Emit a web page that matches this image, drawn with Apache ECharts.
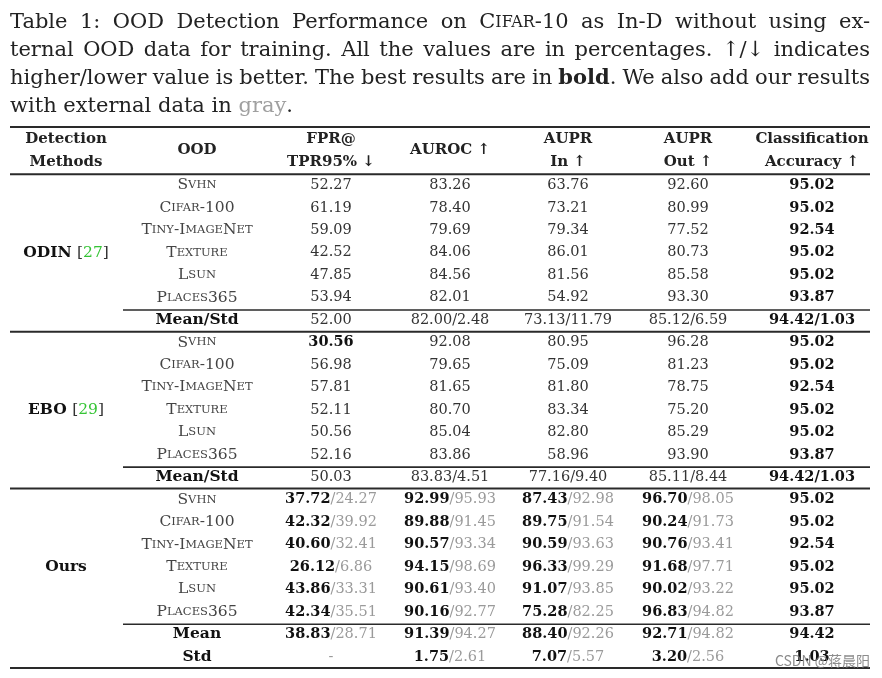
<!DOCTYPE html>
<html><head><meta charset="utf-8">
<script src="https://cdn.jsdelivr.net/npm/echarts@6/dist/echarts.min.js"></script>
<style>html,body{margin:0;padding:0;background:#fff}#c{width:882px;height:678px}</style>
</head><body><div id="c"></div>
<script>
// ---------------- data ----------------
const captionLines = [
  ['Table', '1:', 'OOD', 'Detection', 'Performance', 'on', [['C','r'],['ifar','sc'],['-10','r']], 'as', 'In-D', 'without', 'using', 'ex-'],
  ['ternal', 'OOD', 'data', 'for', 'training.', 'All', 'the', 'values', 'are', 'in', 'percentages.', '↑/↓', 'indicates'],
  ['higher/lower', 'value', 'is', 'better.', 'The', 'best', 'results', 'are', 'in', [['bold','b'],['.','r']], 'We', 'also', 'add', 'our', 'results'],
  ['with', 'external', 'data', 'in', [['gray','g'],['.','r']]]
];
const headerLines = [['Detection','Methods'], ['OOD'], ['FPR@','TPR95% ↓'], ['AUROC ↑'], ['AUPR','In ↑'], ['AUPR','Out ↑'], ['Classification','Accuracy ↑']];
const methods = ['ODIN', 'EBO', 'Ours'];
const methodRefs = ['27', '29', null];
const oodSets = ['Svhn', 'Cifar-100', 'Tiny-ImageNet', 'Texture', 'Lsun', 'Places365'];

const odinFPR     = [52.27, 61.19, 59.09, 42.52, 47.85, 53.94];
const odinAUROC   = [83.26, 78.40, 79.69, 84.06, 84.56, 82.01];
const odinAUPRIn  = [63.76, 73.21, 79.34, 86.01, 81.56, 54.92];
const odinAUPROut = [92.60, 80.99, 77.52, 80.73, 85.58, 93.30];
const odinAcc     = [95.02, 95.02, 92.54, 95.02, 95.02, 93.87];
const odinMean    = [52.00, 82.00, 73.13, 85.12, 94.42];
const odinStd     = [null, 2.48, 11.79, 6.59, 1.03];

const eboFPR      = [30.56, 56.98, 57.81, 52.11, 50.56, 52.16];
const eboAUROC    = [92.08, 79.65, 81.65, 80.70, 85.04, 83.86];
const eboAUPRIn   = [80.95, 75.09, 81.80, 83.34, 82.80, 58.96];
const eboAUPROut  = [96.28, 81.23, 78.75, 75.20, 85.29, 93.90];
const eboAcc      = [95.02, 95.02, 92.54, 95.02, 95.02, 93.87];
const eboMean     = [50.03, 83.83, 77.16, 85.11, 94.42];
const eboStd      = [null, 4.51, 9.40, 8.44, 1.03];
const eboBoldFPR  = [true, false, false, false, false, false];

const oursFPR        = [37.72, 42.32, 40.60, 26.12, 43.86, 42.34];
const oursFPRExt     = [24.27, 39.92, 32.41, 6.86, 33.31, 35.51];
const oursAUROC      = [92.99, 89.88, 90.57, 94.15, 90.61, 90.16];
const oursAUROCExt   = [95.93, 91.45, 93.34, 98.69, 93.40, 92.77];
const oursAUPRIn     = [87.43, 89.75, 90.59, 96.33, 91.07, 75.28];
const oursAUPRInExt  = [92.98, 91.54, 93.63, 99.29, 93.85, 82.25];
const oursAUPROut    = [96.70, 90.24, 90.76, 91.68, 90.02, 96.83];
const oursAUPROutExt = [98.05, 91.73, 93.41, 97.71, 93.22, 94.82];
const oursAcc        = [95.02, 95.02, 92.54, 95.02, 95.02, 93.87];
const oursMean       = [38.83, 91.39, 88.40, 92.71, 94.42];
const oursMeanExt    = [28.71, 94.27, 92.26, 94.82, null];
const oursStd        = [null, 1.75, 7.07, 3.20, 1.03];
const oursStdExt     = [null, 2.61, 5.57, 2.56, null];

// ---------------- layout ----------------
const COL_X = [66, 197, 331, 450, 568, 688, 812];
const L = 10, R = 870, PL = 123;
const FF = '"DejaVu Serif", serif';
const RICH = {
  r:  {fill:'#333', fontSize:14.5, fontFamily:FF},
  b:  {fill:'#111', fontSize:14.5, fontFamily:FF, fontWeight:'bold'},
  g:  {fill:'#9a9a9a', fontSize:14.5, fontFamily:FF},
  S:  {fill:'#444', fontSize:15.5, fontFamily:FF},
  s:  {fill:'#444', fontSize:11.5, fontFamily:FF},
  h:  {fill:'#222', fontSize:15, fontFamily:FF, fontWeight:'bold'},
  m:  {fill:'#111', fontSize:15.5, fontFamily:FF, fontWeight:'bold'},
  gr: {fill:'#35c435', fontSize:15.5, fontFamily:FF},
  rr: {fill:'#333', fontSize:15.5, fontFamily:FF}
};
const fmt = v => v.toFixed(2);
function smallCaps(str) {
  let out = '', i = 0;
  while (i < str.length) {
    const lower = /[a-z]/.test(str[i]);
    let j = i;
    while (j < str.length && /[a-z]/.test(str[j]) === lower) j++;
    const part = str.slice(i, j);
    out += lower ? `{s|${part.toUpperCase()}}` : `{S|${part}}`;
    i = j;
  }
  return out;
}

const cellTexts = [];
const cells = [];
function add(col, row, text) { cells.push([COL_X[col], row, cellTexts.length]); cellTexts.push(text); }

headerLines.forEach((lines, c) => {
  if (lines.length === 2) { add(c, -2.05, `{h|${lines[0]}}`); add(c, -1.05, `{h|${lines[1]}}`); }
  else add(c, -1.55, `{h|${lines[0]}}`);
});

function baseline(start, cols, mean, std, boldFPR, mi) {
  add(0, start + 3, `{m|${methods[mi]} }{rr|[}{gr|${methodRefs[mi]}}{rr|]}`);
  oodSets.forEach((name, i) => {
    add(1, start + i, smallCaps(name));
    cols.forEach((arr, k) => {
      const bold = k === 4 || (k === 0 && boldFPR && boldFPR[i]);
      add(2 + k, start + i, `{${bold ? 'b' : 'r'}|${fmt(arr[i])}}`);
    });
  });
  add(1, start + 6, '{m|Mean/Std}');
  mean.forEach((v, k) => {
    const t = std[k] == null ? fmt(v) : fmt(v) + '/' + fmt(std[k]);
    add(2 + k, start + 6, `{${k === 4 ? 'b' : 'r'}|${t}}`);
  });
}
baseline(0, [odinFPR, odinAUROC, odinAUPRIn, odinAUPROut, odinAcc], odinMean, odinStd, null, 0);
baseline(7, [eboFPR, eboAUROC, eboAUPRIn, eboAUPROut, eboAcc], eboMean, eboStd, eboBoldFPR, 1);

(function ours() {
  const start = 14;
  const main = [oursFPR, oursAUROC, oursAUPRIn, oursAUPROut];
  const ext = [oursFPRExt, oursAUROCExt, oursAUPRInExt, oursAUPROutExt];
  add(0, start + 3, `{m|${methods[2]}}`);
  oodSets.forEach((name, i) => {
    add(1, start + i, smallCaps(name));
    main.forEach((arr, k) => add(2 + k, start + i, `{b|${fmt(arr[i])}}{g|/${fmt(ext[k][i])}}`));
    add(6, start + i, `{b|${fmt(oursAcc[i])}}`);
  });
  add(1, start + 6, '{m|Mean}');
  add(1, start + 7, '{m|Std}');
  oursMean.forEach((v, k) => add(2 + k, start + 6, oursMeanExt[k] == null ? `{b|${fmt(v)}}` : `{b|${fmt(v)}}{g|/${fmt(oursMeanExt[k])}}`));
  oursStd.forEach((v, k) => {
    let t;
    if (v == null) t = '{g|-}';
    else if (oursStdExt[k] == null) t = `{b|${fmt(v)}}`;
    else t = `{b|${fmt(v)}}{g|/${fmt(oursStdExt[k])}}`;
    add(2 + k, start + 7, t);
  });
})();

// table rules: [x0, x1, row, lineWidth]
const rules = [
  [L, R, -2.6, 2], [L, R, -0.5, 2],
  [PL, R, 5.55, 1.6], [L, R, 6.52, 2],
  [PL, R, 12.55, 1.6], [L, R, 13.5, 2],
  [PL, R, 19.55, 1.6], [L, R, 21.5, 2]
];

// ---------------- caption (justified) ----------------
const mc = document.createElement('canvas').getContext('2d');
function segFont(st, size) {
  const sz = st === 'sc' ? size * 0.76 : size;
  return `${st === 'b' ? 'bold ' : ''}${sz}px ${FF}`;
}
function norm(w) { return typeof w === 'string' ? [[w, 'r']] : w; }
function segText(s) { return s[1] === 'sc' ? s[0].toUpperCase() : s[0]; }
function wordWidth(w, size) {
  return norm(w).reduce((a, s) => { mc.font = segFont(s[1], size); return a + mc.measureText(segText(s)).width; }, 0);
}
let capSize = 21;
(function fit() {
  for (let li = 0; li < 3; li++) {
    mc.font = segFont('r', capSize);
    const sp = mc.measureText(' ').width * 0.8;
    const tot = captionLines[li].reduce((a, w) => a + wordWidth(w, capSize), 0) + sp * (captionLines[li].length - 1);
    if (tot > (R - L)) capSize = capSize * (R - L) / tot * 0.995;
  }
})();
const capY = [23, 51, 79, 107];
const graphics = [];
captionLines.forEach((words, li) => {
  mc.font = segFont('r', capSize);
  const sp = mc.measureText(' ').width;
  const widths = words.map(w => wordWidth(w, capSize));
  const sum = widths.reduce((a, b) => a + b, 0);
  const gap = li < 3 ? (R - L - sum) / (words.length - 1) : sp;
  let x = L;
  words.forEach((w, wi) => {
    let sx = x;
    norm(w).forEach(s => {
      const f = segFont(s[1], capSize);
      graphics.push({type:'text', x:sx, y:capY[li], silent:true,
        style:{text:segText(s), font:f, fill: s[1] === 'g' ? '#a0a0a0' : '#222', align:'left', verticalAlign:'middle'}});
      mc.font = f; sx += mc.measureText(segText(s)).width;
    });
    x += widths[wi] + gap;
  });
});
graphics.push({type:'text', right:12, top:654, silent:true, z:100,
  style:{text:'CSDN @蒋晨阳', font:'14px "Noto Sans CJK SC", sans-serif', fill:'rgba(120,120,120,0.85)'}});

// ---------------- chart ----------------
const chart = echarts.init(document.getElementById('c'));
chart.setOption({
  animation: false,
  backgroundColor: '#fff',
  grid: {left:0, right:0, top:127, bottom:10, containLabel:false},
  xAxis: {type:'value', min:0, max:882, show:false},
  yAxis: {type:'value', min:-2.6, max:21.5, inverse:true, show:false},
  graphic: graphics,
  series: [
    {type:'custom', coordinateSystem:'cartesian2d', clip:false, silent:true, data:rules,
     renderItem: (p, api) => {
       const a = api.coord([api.value(0), api.value(2)]);
       const b = api.coord([api.value(1), api.value(2)]);
       return {type:'line', shape:{x1:a[0], y1:a[1], x2:b[0], y2:a[1]}, style:{stroke:'#2a2a2a', lineWidth:api.value(3)}};
     }},
    {type:'custom', coordinateSystem:'cartesian2d', clip:false, silent:true, data:cells,
     renderItem: (p, api) => {
       const pt = api.coord([api.value(0), api.value(1)]);
       return {type:'text', x:pt[0], y:pt[1],
         style:{text:cellTexts[api.value(2)], rich:RICH, align:'center', verticalAlign:'middle', fill:'#333', fontSize:14.5, fontFamily:FF}};
     }}
  ]
});
</script></body></html>
